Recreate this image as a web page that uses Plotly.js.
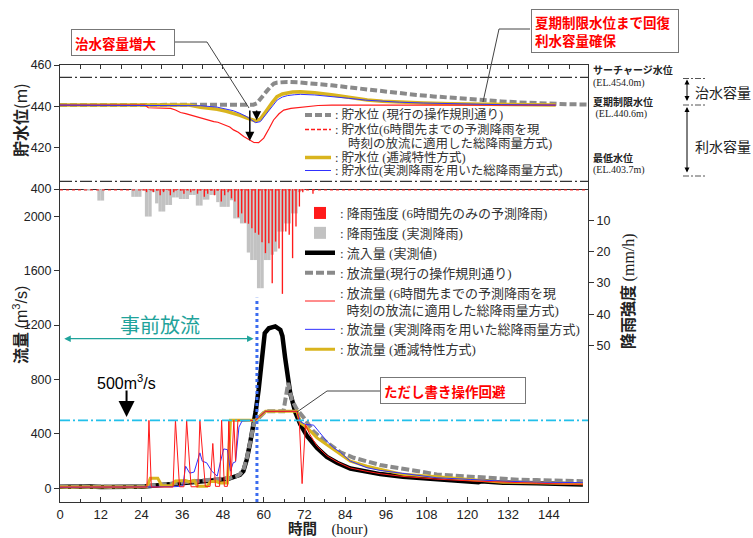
<!DOCTYPE html>
<html>
<head>
<meta charset="utf-8">
<script src="https://cdn.plot.ly/plotly-3.0.1.min.js"></script>
<style>
  html, body { margin: 0; padding: 0; background: #fff; }
  #chart { width: 753px; height: 538px; }
</style>
</head>
<body>
<div id="chart"></div>
<script>
// ---- reference water levels (m) ----
const levelSurcharge = 454.0;
const levelSummer = 440.6;
const levelMinimum = 403.7;
const flowLimit = 500;          // m3/s line
const preReleaseEnd = 58;       // hour of the dotted marker

// ---- rainfall (mm/h), hourly bars starting at the listed hour ----
const grayHour = [7, 8, 11, 12, 21, 22, 23, 24, 25, 26, 27, 28, 29, 30, 31, 32, 33, 34, 35, 36, 37, 38, 39, 40, 41, 42, 43, 44, 45, 46, 47, 48, 49, 50, 51, 52, 53, 54, 55, 56, 57, 58, 59, 60, 61, 62, 63, 64, 65, 66, 67, 68, 69, 70, 71];
const grayRain = [0.5, 0.5, 3.7, 3.7, 2.5, 2.5, 2.5, 0.5, 8.8, 8.8, 1.0, 4.6, 7.2, 7.2, 5.1, 5.1, 2.7, 2.7, 3.2, 3.2, 3.2, 1.9, 1.9, 5.3, 5.3, 3.4, 3.4, 1.9, 1.9, 4.2, 5.7, 5.7, 5.7, 3.6, 9.4, 9.4, 11.0, 11.0, 20.3, 22.7, 22.7, 31.7, 31.7, 22.7, 22.7, 21.0, 20.0, 13.6, 13.6, 11.0, 11.0, 7.8, 7.8, 1.0, 0.5];

const redHour = [24, 25, 26, 27, 28, 29, 30, 31, 32, 33, 34, 35, 36, 37, 38, 39, 40, 41, 42, 43, 44, 45, 46, 47, 48, 49, 50, 51, 52, 53, 54, 55, 56, 57, 58, 59, 60, 61, 62, 63, 64, 65, 66, 67, 68, 69, 70, 71, 72, 73, 74];
const redRain = [0.5, 1, 0.3, 1, 0.5, 2, 1, 0.3, 2, 1, 0.3, 0.5, 1.5, 0.3, 1, 0.3, 1.5, 0.5, 2.5, 1.5, 0.5, 2, 0.5, 4, 2, 1, 3, 4, 9, 7.8, 10.8, 11.1, 12.5, 14, 14.6, 17, 20.5, 17.3, 30.1, 16.8, 19, 33.5, 13.6, 14.6, 22.1, 12, 5.6, 1, 0.3, 0, 1.5];

// ---- inflow (m3/s) ----
const inflowT = [0, 3, 6, 9, 12, 15, 18, 21, 24, 27, 30, 33, 36, 39, 42, 45, 48, 50, 52, 53, 54, 55, 56, 57, 57.6, 58.5, 59.5, 60.3, 61.5, 63.4, 64.9, 65.5, 66.3, 67.0, 67.8, 69.3, 70.8, 72.8, 75.7, 78.6, 81.6, 85.5, 90.4, 94.3, 101, 111, 120.8, 123.2, 124, 130.5, 140.4, 148, 154];
const inflowQ = [12, 14, 10, 13, 10, 13, 11, 12, 12, 18, 25, 32, 42, 48, 53, 58, 66, 74, 86, 100, 127, 212, 335, 470, 560, 725, 969, 1141, 1177, 1190, 1165, 1120, 960, 820, 700, 560, 469, 383, 298, 232, 188, 146, 122, 105, 86, 66, 53, 45, 52, 42, 37, 32, 29];

// ---- outflow: current operating rule ----
const curT = [0, 3, 6, 9, 12, 15, 18, 21, 24, 27, 30, 33, 36, 39, 42, 45, 48, 50, 52, 53, 54, 55, 56, 57, 58, 59, 60.5, 65.8, 67.2, 68.3, 69.8, 71.8, 74.7, 78.6, 80.5, 82.6, 86.5, 90.4, 94.3, 101, 106, 111, 116, 120.8, 125, 130.5, 135, 140.4, 145, 150, 154];
const curQ = [15, 10, 15, 10, 15, 10, 15, 10, 15, 20, 27, 34, 44, 50, 55, 60, 68, 76, 90, 105, 135, 220, 340, 470, 505, 530, 566, 566, 775, 650, 579, 520, 417, 337, 300, 265, 225, 200, 172, 144, 122, 103, 94, 86, 78, 66, 64, 61, 58, 55, 53];

// ---- outflow: forecast (6 h ahead) total-rainfall method ----
const redT = [0, 6, 12, 18, 24, 25.6, 26.2, 26.9, 33.3, 34.0, 35.2, 36.5, 37.3, 38.6, 40.6, 41.2, 42.8, 44.2, 45.0, 45.8, 47.0, 47.6, 48.4, 49.3, 49.7, 50.4, 51.2, 51.7, 52.4, 57.5, 60.5, 69.8, 70.5, 71.3, 72.3, 73.5, 75.7, 78.6, 81.6, 85.5, 90.4, 94.3, 101, 111, 120.8, 130.5, 140.4, 148, 154];
const redQ = [10, 10, 10, 10, 10, 10, 500, 10, 10, 500, 12, 12, 500, 12, 12, 500, 15, 15, 330, 15, 15, 500, 15, 15, 500, 90, 500, 200, 500, 500, 566, 566, 480, 35, 470, 400, 310, 240, 195, 150, 125, 108, 88, 68, 55, 45, 38, 33, 30];

// ---- outflow: observed-rainfall total-rainfall method ----
const bluT = [0, 6, 12, 18, 24, 30, 33, 35.5, 36.2, 37, 38.2, 39.5, 41.2, 41.9, 43.2, 44.7, 46.3, 47.3, 48.2, 49.3, 50.2, 51.0, 51.7, 52.7, 53.6, 57.5, 60.5, 69.8, 70.8, 72.3, 74.7, 76.5, 78.6, 80.5, 82.6, 85.5, 90.4, 94.3, 101, 111, 120.8, 130.5, 140.4, 148, 154];
const bluQ = [8, 8, 8, 8, 8, 10, 12, 15, 20, 163, 112, 120, 261, 200, 188, 127, 90, 200, 290, 285, 127, 188, 195, 450, 495, 500, 566, 566, 490, 470, 465, 410, 346, 300, 265, 200, 152, 132, 110, 78, 66, 53, 46, 44, 42];

// ---- outflow: recession-characteristic method ----
const yelT = [0, 6, 12, 18, 24, 25.6, 26.6, 28.8, 30.0, 32.8, 34.0, 37.0, 38.0, 39.5, 40.5, 43.3, 44.3, 46.0, 47.0, 49.3, 50.2, 57.5, 60.5, 69.8, 70.8, 72.8, 75.7, 78.6, 81.6, 85.5, 90.4, 94.3, 101, 111, 120.8, 130.5, 140.4, 148, 154];
const yelQ = [10, 10, 10, 10, 10, 12, 75, 75, 20, 20, 55, 58, 48, 58, 15, 15, 50, 52, 40, 40, 500, 500, 566, 566, 481, 445, 371, 320, 265, 200, 163, 139, 103, 86, 66, 46, 42, 37, 34];

// ---- reservoir water level (m) ----
const levCurT = [0, 56, 57, 58, 59, 60, 61, 62, 63, 64, 65, 67, 70, 75, 80, 85, 90, 95, 100, 105, 110, 115, 120, 125, 130, 135, 140, 145, 150, 155.5];
const levCur = [440.6, 440.6, 440.8, 441.5, 443.3, 445.5, 447.6, 449.5, 451, 451.5, 451.7, 451.8, 451.6, 451, 450.2, 449.2, 448.2, 447.2, 446.3, 445.5, 444.8, 444.1, 443.5, 442.9, 442.4, 441.9, 441.5, 441.2, 441, 440.9];

const levRedT = [0, 25, 26, 28, 30, 32.6, 34, 35.5, 37, 39, 41.4, 43, 45.3, 46.5, 48.2, 50, 51.1, 52.5, 54.1, 55.5, 57.1, 58.5, 60, 61.5, 62.9, 64.5, 65.9, 68, 70.8, 73, 76, 80, 90, 100, 110, 120, 130, 140, 146];
const levRed = [440.6, 440.6, 439.3, 439.1, 439, 439, 438.2, 437, 436.5, 435.5, 434.3, 433.6, 432.6, 432.3, 431, 430, 428.6, 427.5, 425.4, 424, 422.5, 422.4, 424.6, 429, 433.4, 436.4, 438.2, 439, 439.5, 440, 440.4, 440.6, 440.6, 440.6, 440.6, 440.6, 440.6, 440.6, 440.6];

const levYelT = [0, 38, 41.4, 44, 46.3, 49, 51, 53, 55.1, 56.5, 57.6, 59, 60, 61, 62.5, 63.9, 65.5, 66.9, 68.5, 70.8, 75, 80.5, 85, 90.5, 95, 100, 107, 115, 122, 130, 138, 146];
const levYel = [440.6, 440.6, 439.6, 439.2, 438.6, 437.6, 436.7, 435.6, 434.3, 433.5, 433, 433.8, 435.8, 438.3, 441.8, 444.7, 446, 446.6, 446.9, 447, 446.6, 445.5, 444.4, 443.1, 442.5, 442, 441.6, 441.2, 441, 440.8, 440.7, 440.6];

const levBluT = [0, 41.4, 46.3, 49, 51, 53, 55, 56.5, 57.6, 59, 60, 61, 62.5, 64, 65.5, 67, 69, 70.8, 75, 80, 85, 90, 95, 100, 107, 115, 122, 130, 138, 146];
const levBlu = [440.6, 440.3, 439.6, 438.8, 437.9, 436.6, 435, 433.3, 432.1, 432.6, 434.6, 436.7, 440, 443.1, 444.5, 445.2, 445.6, 445.8, 445.5, 444.8, 443.9, 443, 442.4, 442, 441.6, 441.2, 441, 440.8, 440.7, 440.6];

// ---- axis ticks ----
const hourTicks = [0, 12, 24, 36, 48, 60, 72, 84, 96, 108, 120, 132, 144];
const levelTicks = [400, 420, 440, 460];
const flowTicks = [0, 400, 800, 1200, 1600, 2000];
const rainTicks = [10, 20, 30, 40, 50];

// ---- styling ----
const SANS = '"Liberation Sans", Arial, "Noto Sans CJK JP", sans-serif';
const SERIF = '"Liberation Serif", "Times New Roman", "Noto Sans CJK JP", serif';
const GOTHIC = '"Noto Sans CJK JP", "Liberation Sans", sans-serif';
const C_GRAY = '#8a8a8a', C_RED = '#ff1a1a', C_BLUE = '#3030ff', C_YEL = '#d9b41e', C_TEAL = '#1fa39b';
const AX = '#333';

const traces = [
  // water level panel
  { x: levCurT, y: levCur, xaxis: 'x', yaxis: 'y', mode: 'lines', showlegend: false,
    line: { color: C_GRAY, width: 4, dash: '7px,3px' } },
  { x: levYelT, y: levYel, xaxis: 'x', yaxis: 'y', mode: 'lines', showlegend: false,
    line: { color: C_YEL, width: 3.5 } },
  { x: levRedT, y: levRed, xaxis: 'x', yaxis: 'y', mode: 'lines', showlegend: false,
    line: { color: C_RED, width: 1.2 } },
  { x: levBluT, y: levBlu, xaxis: 'x', yaxis: 'y', mode: 'lines', showlegend: false,
    line: { color: C_BLUE, width: 1 } },

  // discharge panel
  { x: inflowT, y: inflowQ, xaxis: 'x2', yaxis: 'y2', mode: 'lines', legendrank: 3,
    name: ':\u00a0流入量 (実測値)', line: { color: '#000', width: 4.5 } },
  { x: curT, y: curQ, xaxis: 'x2', yaxis: 'y2', mode: 'lines', legendrank: 4,
    name: ':\u00a0放流量(現行の操作規則通り)', line: { color: C_GRAY, width: 4, dash: '8px,3px' } },
  { x: yelT, y: yelQ, xaxis: 'x2', yaxis: 'y2', mode: 'lines', legendrank: 7,
    name: ':\u00a0放流量 (逓減特性方式)', line: { color: C_YEL, width: 3 } },
  { x: bluT, y: bluQ, xaxis: 'x2', yaxis: 'y2', mode: 'lines', legendrank: 6,
    name: ':\u00a0放流量 (実測降雨を用いた総降雨量方式)', line: { color: C_BLUE, width: 1 } },
  { x: redT, y: redQ, xaxis: 'x2', yaxis: 'y2', mode: 'lines', legendrank: 5,
    name: ':\u00a0放流量 (6時間先までの予測降雨を現<br>\u00a0\u00a0時刻の放流に適用した総降雨量方式)',
    line: { color: C_RED, width: 1 } },

  // rainfall bars (reversed right axis)
  { type: 'bar', x: grayHour, y: grayRain, xaxis: 'x2', yaxis: 'y3', offset: 0, width: 1,
    legendrank: 2, name: ':\u00a0降雨強度 (実測降雨)',
    marker: { color: '#c2c2c2', line: { width: 0 } } },
  { type: 'bar', x: redHour, y: redRain, xaxis: 'x2', yaxis: 'y3', offset: 0.3, width: 0.4,
    legendrank: 1, name: ':\u00a0降雨強度 (6時間先のみの予測降雨)',
    marker: { color: C_RED, line: { width: 0 } } }
];

// paper coordinate helpers for callouts placed around the plot area
const L = 60, R = 165, T = 65, B = 36, W = 753, H = 538;
const PW = W - L - R, PH = H - T - B;
const px = v => (v - L) / PW;
const py = v => (H - B - v) / PH;
const splitY = py(189);

const shapes = [
  // reference levels
  { type: 'line', xref: 'x domain', yref: 'y', x0: 0, x1: 1, y0: levelSurcharge, y1: levelSurcharge,
    line: { color: AX, width: 1.2, dash: '12px,3px,2px,3px' } },
  { type: 'line', xref: 'x domain', yref: 'y', x0: 0, x1: 1, y0: levelMinimum, y1: levelMinimum,
    line: { color: AX, width: 1.2, dash: '12px,3px,2px,3px' } },
  // 500 m3/s line
  { type: 'line', xref: 'x2 domain', yref: 'y2', x0: 0, x1: 1, y0: flowLimit, y1: flowLimit,
    line: { color: '#22c0ea', width: 1.8, dash: '10px,3px,2px,3px' } },
  // end of pre-release
  { type: 'line', xref: 'x2', yref: 'y2', x0: preReleaseEnd, x1: preReleaseEnd, y0: -100, y1: 1400,
    line: { color: '#3b6cf0', width: 3, dash: 'dot' } },
  // rain baseline
  { type: 'line', xref: 'x2 domain', yref: 'y3', x0: 0, x1: 1, y0: 0.3, y1: 0.3,
    line: { color: C_RED, width: 1, dash: 'dot' } },

  // callout leaders
  { type: 'path', xref: 'paper', yref: 'paper', line: { color: '#444', width: 1 },
    path: `M ${px(175)},${py(42)} L ${px(207)},${py(42)} L ${px(249)},${py(108)}` },
  { type: 'path', xref: 'paper', yref: 'paper', line: { color: '#444', width: 1 },
    path: `M ${px(530)},${py(29)} L ${px(499)},${py(29)} L ${px(483)},${py(102)}` },
  { type: 'path', xref: 'paper', yref: 'paper', line: { color: '#444', width: 1 },
    path: `M ${px(380)},${py(391)} L ${px(327)},${py(391)} L ${px(297)},${py(412)}` },

  // storage bracket ticks at the right
  { type: 'line', xref: 'paper', yref: 'paper', x0: px(683), x1: px(706), y0: py(78.5), y1: py(78.5),
    line: { color: '#555', width: 1, dash: '6px,2px,2px,2px' } },
  { type: 'line', xref: 'paper', yref: 'paper', x0: px(683), x1: px(706), y0: py(105), y1: py(105),
    line: { color: '#555', width: 1, dash: '6px,2px,2px,2px' } },
  { type: 'line', xref: 'paper', yref: 'paper', x0: px(683), x1: px(706), y0: py(176), y1: py(176),
    line: { color: '#555', width: 1, dash: '6px,2px,2px,2px' } },

  // water-level legend samples
  { type: 'line', xref: 'paper', yref: 'paper', x0: px(305), x1: px(331), y0: py(115), y1: py(115),
    line: { color: C_GRAY, width: 4, dash: '7px,3px' } },
  { type: 'line', xref: 'paper', yref: 'paper', x0: px(305), x1: px(331), y0: py(129.5), y1: py(129.5),
    line: { color: C_RED, width: 1.5, dash: '4px,2px' } },
  { type: 'line', xref: 'paper', yref: 'paper', x0: px(305), x1: px(331), y0: py(157.5), y1: py(157.5),
    line: { color: C_YEL, width: 3.5 } },
  { type: 'line', xref: 'paper', yref: 'paper', x0: px(305), x1: px(331), y0: py(170.5), y1: py(170.5),
    line: { color: C_BLUE, width: 1 } }
];

const note = (x, y, t, font, extra) => Object.assign({ xref: 'paper', yref: 'paper', x: px(x), y: py(y),
  xanchor: 'center', yanchor: 'middle', text: t, showarrow: false, font: font }, extra || {});
const legTxt = (x, y, t) => note(x, y, t, { family: SERIF, size: 12.5, color: '#333' }, { xanchor: 'left' });
const sideTxt = (y, t, fam, bold) => note(591, y, bold ? '<b>' + t + '</b>' : t,
  { family: fam, size: 10, color: '#222' }, { xanchor: 'left' });
const boxNote = (cx, cy, t, w, h) => note(cx, cy, '<b>' + t + '</b>',
  { family: GOTHIC, size: 13.5, color: '#ff0000' },
  { width: w, height: h, align: 'left', bgcolor: '#fff', bordercolor: '#777', borderwidth: 1, borderpad: 3 });
const dblArrow = (x, yTop, len) => ({ xref: 'paper', yref: 'paper', x: px(x), y: py(yTop), ax: 0, ay: len,
  axref: 'pixel', ayref: 'pixel', xanchor: 'center', yanchor: 'middle', text: '', showarrow: true,
  arrowside: 'end+start', arrowhead: 2, arrowsize: 1, arrowwidth: 1, arrowcolor: '#000' });

const annotations = [
  // axis titles
  note(20, 120, '<b>貯水位</b>(m)', { family: GOTHIC, size: 16, color: '#222' }, { textangle: -90 }),
  note(20, 325, '<b>流量</b> <span style="font-family:Liberation Sans">(m<sup>3</sup>/s)</span>',
    { family: GOTHIC, size: 16, color: '#222' }, { textangle: -90 }),
  note(627, 291, '<b>降雨強度</b> <span style="font-family:Liberation Serif">(mm/h)</span>',
    { family: GOTHIC, size: 16, color: '#222' }, { textangle: -90 }),
  note(328, 527.5, '<b>時間</b>　<span style="font-family:Liberation Serif">(hour)</span>',
    { family: GOTHIC, size: 14.5, color: '#222' }),

  // level annotations on the right
  sideTxt(70, 'サーチャージ水位', GOTHIC, true),
  sideTxt(82.5, '(EL.454.0m)', SERIF, false),
  sideTxt(101.5, '夏期制限水位', GOTHIC, true),
  sideTxt(114, '\u00a0(EL.440.6m)', SERIF, false),
  sideTxt(157, '最低水位', GOTHIC, true),
  sideTxt(169.5, '(EL.403.7m)', SERIF, false),
  dblArrow(687, 79.5, 23),
  dblArrow(687, 107, 67),
  note(723, 92, '治水容量', { family: GOTHIC, size: 14, color: '#222' }),
  note(723, 146, '利水容量', { family: GOTHIC, size: 14, color: '#222' }),

  // water-level legend
  legTxt(333, 115, ':\u00a0貯水位 (現行の操作規則通り)'),
  legTxt(333, 129.5, ':\u00a0貯水位(6時間先までの予測降雨を現'),
  legTxt(346, 143, '時刻の放流に適用した総降雨量方式)'),
  legTxt(333, 157.5, ':\u00a0貯水位 (逓減特性方式)'),
  legTxt(333, 170.5, ':\u00a0貯水位(実測降雨を用いた総降雨量方式)'),

  // arrows at the level trough
  { xref: 'x', yref: 'y', x: 55.9, y: 423.4, axref: 'x', ayref: 'y', ax: 55.9, ay: 438.7,
    text: '', showarrow: true, arrowhead: 2, arrowsize: 1.2, arrowwidth: 1.5, arrowcolor: '#000', standoff: 0 },
  { xref: 'x', yref: 'y', x: 57.9, y: 433.3, axref: 'x', ayref: 'y', ax: 57.9, ay: 438.7,
    text: '', showarrow: true, arrowhead: 2, arrowsize: 1.2, arrowwidth: 1.5, arrowcolor: '#000', standoff: 0 },

  // callout boxes
  boxNote(122.5, 42, '治水容量増大', 96, 19),
  boxNote(604.5, 31, '夏期制限水位まで回復<br>利水容量確保', 140, 36),
  boxNote(453, 390, 'ただし書き操作回避', 138, 19),

  // pre-release span
  { xref: 'x2', yref: 'y2', x: 57, y: 1100, axref: 'x2', ayref: 'y2', ax: 0.8, ay: 1100,
    text: '', showarrow: true, arrowside: 'end+start', arrowhead: 2, arrowsize: 1, arrowwidth: 1.3,
    arrowcolor: C_TEAL, standoff: 0, startstandoff: 0 },
  { xref: 'x2', yref: 'y2', x: 29.5, y: 1205, xanchor: 'center', yanchor: 'middle', showarrow: false,
    text: '事前放流', font: { family: GOTHIC, size: 20, color: C_TEAL } },

  // 500 m3/s marker
  { xref: 'x2', yref: 'y2', x: 19.5, y: 782, xanchor: 'center', yanchor: 'middle', showarrow: false,
    text: '500m<sup>3</sup>/s', font: { family: SANS, size: 16, color: '#000' } },
  { xref: 'x2', yref: 'y2', x: 19.6, y: 525, axref: 'x2', ayref: 'y2', ax: 19.6, ay: 730,
    text: '', showarrow: true, arrowhead: 2, arrowsize: 1.6, arrowwidth: 2, arrowcolor: '#000', standoff: 0 }
];

const tickFont = { family: SANS, size: 12.5, color: '#222' };

const layout = {
  width: W, height: H,
  margin: { l: L, r: R, t: T, b: B },
  paper_bgcolor: '#fff', plot_bgcolor: '#fff',
  showlegend: true,
  barmode: 'overlay',
  legend: {
    x: px(300), xanchor: 'left', y: py(198), yanchor: 'top',
    bgcolor: 'rgba(0,0,0,0)', borderwidth: 0, traceorder: 'normal',
    itemwidth: 30, tracegroupgap: 0,
    font: { family: SERIF, size: 13, color: '#333' }
  },
  xaxis: {
    domain: [0, 1], anchor: 'y', range: [0, 155.5], side: 'top',
    showticklabels: false, ticks: 'inside', tickmode: 'linear', tick0: 0, dtick: 6, ticklen: 4,
    tickcolor: AX, showline: true, mirror: true, linecolor: AX, linewidth: 1,
    showgrid: false, zeroline: false
  },
  yaxis: {
    domain: [splitY, 1], anchor: 'x', range: [400, 460],
    tickmode: 'array', tickvals: levelTicks, ticks: 'outside', ticklen: 5, tickcolor: AX,
    tickfont: tickFont, showline: true, mirror: true, linecolor: AX, linewidth: 1,
    showgrid: false, zeroline: false
  },
  xaxis2: {
    domain: [0, 1], anchor: 'y2', range: [0, 155.5],
    tickmode: 'array', tickvals: hourTicks, ticks: 'inside', ticklen: 5, tickcolor: AX,
    minor: { dtick: 6, tick0: 0, ticks: 'inside', ticklen: 3, tickcolor: AX },
    tickfont: { family: SANS, size: 13, color: '#222' },
    showline: true, linecolor: AX, linewidth: 1, showgrid: false, zeroline: false
  },
  yaxis2: {
    domain: [0, splitY], anchor: 'x2', range: [-100, 2200],
    tickmode: 'array', tickvals: flowTicks, ticks: 'outside', ticklen: 5, tickcolor: AX,
    tickfont: tickFont, showline: true, linecolor: AX, linewidth: 1,
    showgrid: false, zeroline: false
  },
  yaxis3: {
    overlaying: 'y2', anchor: 'x2', side: 'right', range: [100, 0],
    tickmode: 'array', tickvals: rainTicks, ticks: 'outside', ticklen: 5, tickcolor: AX,
    tickfont: tickFont, showline: true, linecolor: AX, linewidth: 1,
    showgrid: false, zeroline: false
  },
  shapes: shapes,
  annotations: annotations
};

Plotly.newPlot('chart', traces, layout, { displayModeBar: false, staticPlot: true });
</script>
</body>
</html>
